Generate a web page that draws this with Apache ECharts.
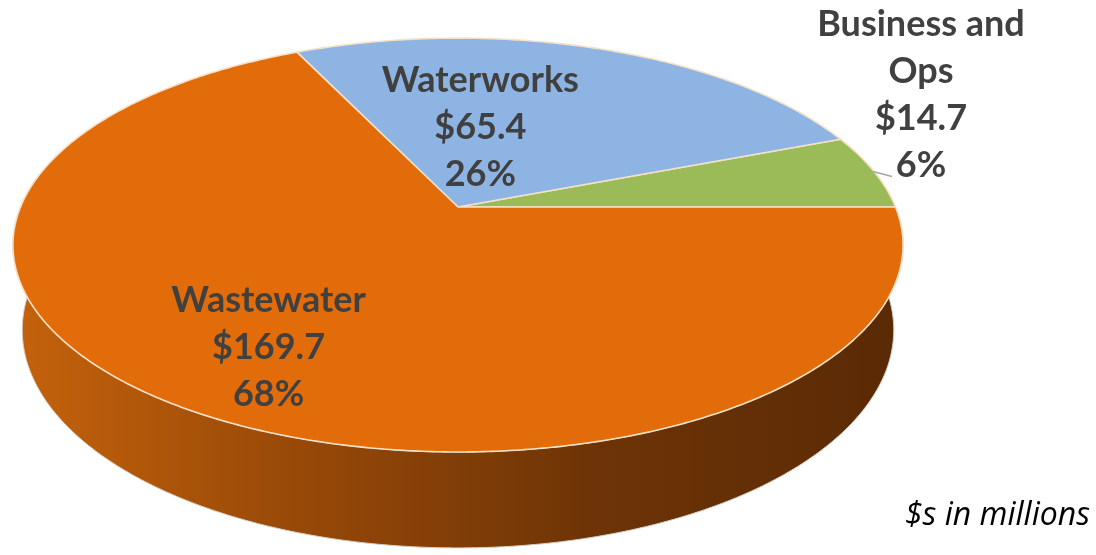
<!DOCTYPE html>
<html><head><meta charset="utf-8">
<script src="https://cdn.jsdelivr.net/npm/echarts@6/dist/echarts.min.js"></script>
<style>html,body{margin:0;padding:0;background:#fff}#c{width:1096px;height:555px}</style>
</head><body><div id="c"></div>
<script>
// ---- data ----
const categories = ['Business and Ops', 'Waterworks', 'Wastewater'];
const labelNames = ['Business and\nOps', 'Waterworks', 'Wastewater'];
const values = [14.7, 65.4, 169.7];
const noteText = '$s in millions';

// ---- style / layout ----
const topColors = ['#9BBB59', '#8EB4E3', '#E36C0A'];
const sideStops = [
  [['#7d9a45', 0], ['#4d6128', 1]],
  [['#6f93c0', 0], ['#3e5a80', 1]],
  [['#c4620c', 0], ['#9a4a08', 0.3], ['#6e3406', 0.65], ['#5a2a05', 1]]
];
// label layout: radial factor, dx, dy, outside(leader)
const labelLayout = [
  {r: 1.0, dx: 47, dy: -77, leader: true},
  {r: 0.55, dx: -59, dy: 14},
  {r: 0.72, dx: 0, dy: 3}
];
const G = {cx: 458, cy: 207, k: 437.5, sa: 0.457, ca: 0.8894, D: 4.838, H: 0.2194};

const total = values.reduce((a, b) => a + b, 0);
const angles = [];
(function () {
  let start = 0;
  values.forEach(v => {
    const a1 = start, a0 = start - v / total * Math.PI * 2;
    angles.push([a0, a1]);
    start = a0;
  });
})();

function proj(phi, r, Y) {
  const X = Math.cos(phi) * r, Z = Math.sin(phi) * r;
  const sy = Z * G.sa - Y * G.ca;
  const dz = Z * G.ca + Y * G.sa;
  const s = G.D / (G.D - dz);
  return [G.cx + G.k * X * s, G.cy + G.k * sy * s];
}
function arc(a, b, Y) {
  const pts = [];
  const n = Math.max(2, Math.ceil(Math.abs(b - a) / (Math.PI / 360)));
  for (let i = 0; i <= n; i++) pts.push(proj(a + (b - a) * i / n, 1, Y));
  return pts;
}

const chart = echarts.init(document.getElementById('c'), null, {renderer: 'canvas'});
const dataItems = values.map((v, i) => ({name: categories[i], value: [v, i]}));

const W0 = -20 * Math.PI / 180, W1 = 200 * Math.PI / 180;

function renderSide(params, api) {
  const i = params.dataIndex;
  const [a0, a1] = angles[i];
  const children = [];
  for (let sh = -1; sh <= 1; sh++) {
    const lo = Math.max(a0 + sh * 2 * Math.PI, W0);
    const hi = Math.min(a1 + sh * 2 * Math.PI, W1);
    if (lo < hi) {
      const pts = arc(lo, hi, 0).concat(arc(hi, lo, -G.H));
      children.push({
        type: 'polygon',
        shape: {points: pts},
        style: {
          fill: {
            type: 'linear', global: true,
            x: G.cx - G.k, y: 0, x2: G.cx + G.k, y2: 0,
            colorStops: sideStops[i].map(s => ({color: s[0], offset: s[1]}))
          },
          stroke: '#d9cfc6', lineWidth: 1
        }
      });
    }
  }
  return {type: 'group', children};
}

function renderTop(params, api) {
  const i = params.dataIndex;
  const v = api.value(0);
  const [a0, a1] = angles[i];
  const pts = [proj(0, 0, 0)].concat(arc(a1, a0, 0));
  const children = [{
    type: 'polygon',
    shape: {points: pts},
    style: {fill: topColors[i], stroke: '#f5e1c8', lineWidth: 1.6, lineJoin: 'round'}
  }];
  const L = labelLayout[i];
  const mid = (a0 + a1) / 2;
  const p = proj(mid, L.r, 0);
  const txt = labelNames[i] + '\n$' + v.toFixed(1) + '\n' + Math.round(v / total * 100) + '%';
  if (L.leader) {
    children.push({
      type: 'line',
      shape: {x1: p[0] - 1, y1: p[1], x2: p[0] + 18, y2: p[1] + 5},
      style: {stroke: '#a6a6a6', lineWidth: 1.5}
    });
  }
  children.push({
    type: 'text',
    x: p[0] + L.dx, y: p[1] + L.dy,
    style: {
      text: txt, fill: '#404040', fontFamily: 'Lato', fontWeight: 'bold', fontSize: 36,
      lineHeight: 47, align: 'center', verticalAlign: 'middle'
    }
  });
  return {type: 'group', children};
}

chart.setOption({
  animation: false,
  backgroundColor: '#ffffff',
  graphic: [{
    type: 'text', right: 6, top: 500,
    style: {text: noteText, fill: '#000000', fontFamily: 'Open Sans', fontStyle: 'italic', fontSize: 32}
  }],
  series: [
    {type: 'custom', coordinateSystem: 'none', z: 1, silent: true, renderItem: renderSide, data: dataItems},
    {type: 'custom', coordinateSystem: 'none', z: 2, silent: true, renderItem: renderTop, data: dataItems}
  ]
});
</script></body></html>
